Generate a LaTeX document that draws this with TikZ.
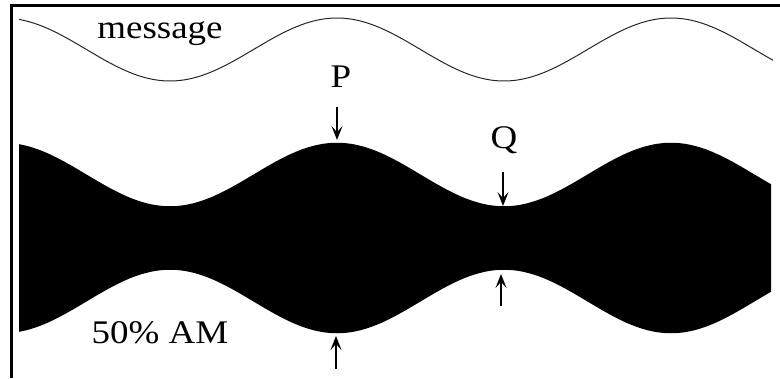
\documentclass[tikz,border=0pt]{standalone}
\usepackage{fontspec}
\newfontfamily\labfont[FakeStretch=1.12]{Liberation Serif}
\usetikzlibrary{arrows.meta}
\tikzset{
  lab/.style={font=\labfont\fontsize{33}{36}\selectfont, inner sep=0pt, anchor=base},
  marker/.style={line width=1.8pt, -{Stealth[length=14pt,width=11pt,inset=6pt]}},
  frameline/.style={line width=2.7pt},
}
\begin{document}
\begin{tikzpicture}[x=1pt,y=-1pt]
\useasboundingbox (0,0) rectangle (780,378);
% frame (top and left)
\draw[frameline] (11.3,378) -- (11.3,5.3) -- (780,5.3);
% message wave
\draw[line width=1pt, black!85] plot[domain=19:773, samples=240, smooth] ({\x},{49.5-31.5*cos(1.077844*(\x-3))});
% AM signal (solid envelope)
\fill[black] plot[domain=19:771, samples=240] ({\x},{238-63.5*(1+0.5*cos(1.077844*(\x-3)))})
  -- plot[domain=771:19, samples=240] ({\x},{238+63.5*(1+0.5*cos(1.077844*(\x-3)))}) -- cycle;
% labels
\node[lab] (msg) at (160,38) {message};
\node[lab] (am) at (160,343) {50\% AM};
\node[lab] (P) at (341,87) {P};
\node[lab] (Q) at (504,148) {Q};
% marker coordinates
\coordinate (p1s) at (337,107);
\coordinate (p1e) at (337,140);
\coordinate (p2s) at (336,369);
\coordinate (p2e) at (336,336);
\coordinate (q1s) at (503,172);
\coordinate (q1e) at (503,206);
\coordinate (q2s) at (501,306);
\coordinate (q2e) at (501,274);
\draw[marker] (p1s) -- (p1e);
\draw[marker] (p2s) -- (p2e);
\draw[marker] (q1s) -- (q1e);
\draw[marker] (q2s) -- (q2e);
\end{tikzpicture}
\end{document}
